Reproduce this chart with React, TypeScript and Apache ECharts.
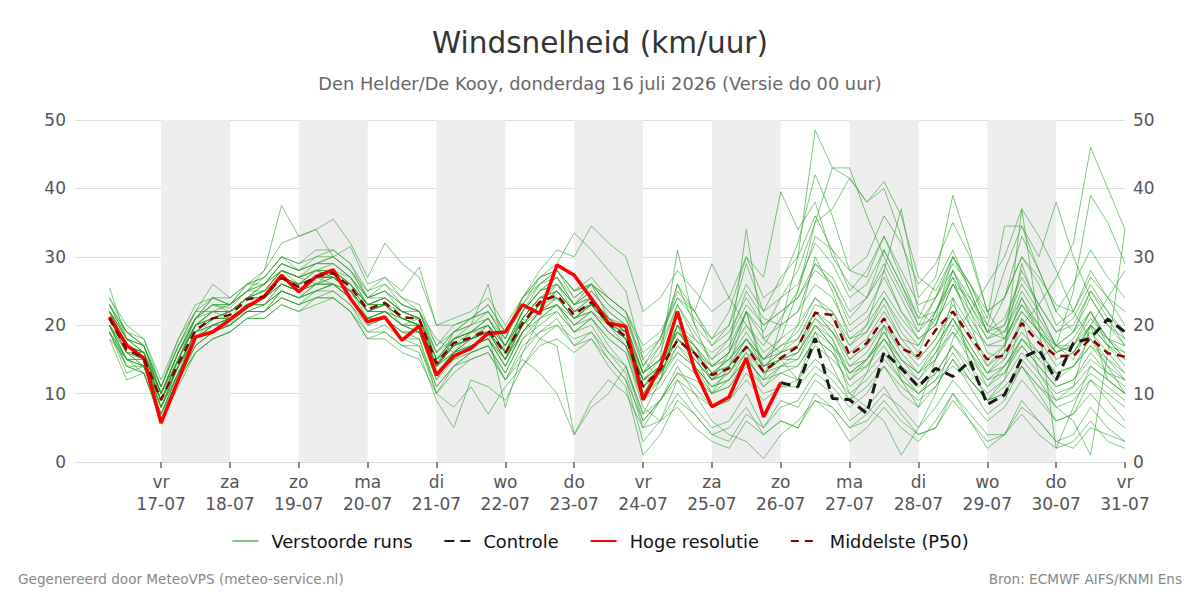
import React, { useEffect, useRef } from "react";
import * as echarts from "echarts";

// Time steps: hours since 16-07 00:00, every 6 h from 16-07 06:00
const STEP_HOURS = 6;
const FIRST_HOUR = 6;
const DAY_NAMES = ["do", "vr", "za", "zo", "ma", "di", "wo"];
const TICK_HOURS = [24, 48, 72, 96, 120, 144, 168, 192, 216, 240, 264, 288, 312, 336, 360];
const SHADED_DAYS = [[24, 48], [72, 96], [120, 144], [168, 192], [216, 240], [264, 288], [312, 336]];

const hogeResolutie = [21.2, 17.1, 15.2, 5.7, 12.0, 18.3, 19.0, 20.8, 22.7, 24.2, 27.3, 24.9, 27.1, 28.1, 23.9, 20.5, 21.2, 17.8, 19.9, 12.7, 15.5, 16.6, 18.8, 19.0, 23.0, 21.7, 28.8, 27.3, 23.9, 20.3, 19.8, 9.1, 13.9, 22.0, 13.5, 8.1, 9.5, 15.2, 6.6, 11.6];

const controle = [null, null, null, null, null, null, null, null, null, null, null, null, null, null, null, null, null, null, null, null, null, null, null, null, null, null, null, null, null, null, null, null, null, null, null, null, null, null, null,
  11.6, 11.0, 18.1, 9.3, 9.1, 7.1, 16.1, 13.7, 11.0, 13.7, 12.5, 14.8, 8.4, 9.8, 15.2, 16.4, 12.0, 17.4, 18.1, 20.9, 19.0];

const middelste = [21.0, 16.4, 15.2, 9.1, 14.4, 19.3, 21.0, 21.5, 23.8, 24.2, 26.9, 25.6, 27.1, 27.6, 25.6, 22.3, 23.3, 21.2, 20.9, 14.4, 17.4, 18.2, 19.3, 15.9, 20.3, 23.4, 24.4, 21.5, 23.4, 20.3, 18.3, 11.0, 13.5, 17.8, 15.9, 12.7, 13.7, 16.8, 13.2, 15.2, 16.9, 21.8, 21.5, 15.6, 17.4, 21.0, 16.6, 15.5, 19.3, 22.0, 18.3, 15.0, 15.6, 20.3, 17.4, 15.5, 15.5, 18.1, 15.9, 15.4];

const run01 = [25.5, 18, 16, 10, 16, 21, 23, 22.5, 25, 28, 37.5, 33, 34, 30, 31.5, 26, 27, 24, 22, 18, 16, 19, 20, 17, 22, 25, 27, 23, 26, 21, 19, 10, 14, 20, 17, 12, 16, 22, 14, 16, 20, 30, 25, 18, 19, 24, 19, 16, 22, 27, 20, 14, 17, 24, 19, 16, 18, 22, 17, 15];
const run02 = [20, 15, 14, 7, 13, 18, 20, 21, 23, 23, 25, 24, 26, 28, 24, 21, 22, 20, 19, 12, 16, 17, 18, 14, 19, 22, 23, 20, 22, 19, 17, 9, 12, 16, 14, 11, 12, 15, 12, 20, 30, 48.5, 43, 43, 36, 30, 25, 20, 24, 28, 24, 19, 18, 23, 20, 17, 16, 20, 18, 17];
const run03 = [22, 17, 15, 8, 14, 19, 21, 22, 24, 24, 27, 26, 28, 27, 26, 23, 24, 22, 21, 15, 17, 18, 19, 16, 20, 23, 26, 22, 24, 21, 18, 12, 14, 18, 16, 13, 14, 17, 13, 15, 17, 22, 20, 15, 17, 20, 17, 15, 18, 22, 18, 14, 16, 20, 23, 27, 32, 46, 40, 34];
const run04 = [19, 13, 14, 6, 12, 17, 19, 20, 22, 22, 24, 23, 25, 25, 23, 20, 21, 19, 18, 10, 14, 16, 17, 12, 16, 19, 21, 17, 19, 15, 12, 3, 6, 12, 8, 5, 6, 10, 5, 9, 8, 12, 10, 6, 8, 11, 7, 4, 5, 9, 6, 3, 4, 8, 6, 3, 2, 5, 4, 3];
const run05 = [21, 16, 15, 9, 15, 20, 21, 22, 24, 25, 28, 27, 29, 29, 27, 23, 23, 21, 20, 13, 16, 18, 19, 15, 21, 24, 24, 21, 23, 20, 19, 13, 15, 19, 16, 13, 15, 18, 15, 18, 25, 35, 43, 41.5, 38, 40, 33, 22, 20, 28, 22, 16, 15, 21, 18, 14, 16, 19, 16, 13];
const run06 = [23, 18, 17, 11, 17, 22, 22, 21, 24, 26, 28, 27, 26, 27, 25, 21, 22, 20, 20, 14, 18, 20, 21, 17, 21, 18, 17, 4, 8, 10, 14, 7, 12, 20, 16, 10, 12, 16, 11, 14, 15, 20, 18, 12, 15, 19, 15, 12, 16, 21, 16, 11, 14, 18, 15, 12, 14, 17, 14, 12];
const run07 = [22, 19, 17, 10, 16, 21, 24, 23, 25, 27, 30, 29, 30, 31, 29, 24, 26, 23, 22, 16, 19, 21, 22, 18, 24, 28, 31, 30, 34.5, 32, 30, 22, 24, 28, 25, 22, 24, 30, 27, 39.5, 34, 38, 30, 26, 24, 28, 22, 18, 20, 26, 21, 17, 18, 23, 19, 16, 17, 22, 18, 15];
const run08 = [18, 15, 13, 7, 12, 16, 18, 19, 21, 21, 23, 22, 23, 24, 22, 18, 19, 17, 16, 9, 5, 12, 11, 9, 14, 17, 18, 16, 18, 14, 11, 1, 4, 9, 7, 4, 3, 7, 5, 8, 9, 13, 11, 8, 10, 14, 10, 8, 11, 15, 11, 7, 9, 14, 10, 6, 7, 12, 9, 6];
const run09 = [20, 16, 15, 8, 14, 18, 20, 20, 23, 23, 26, 25, 27, 26, 25, 22, 22, 20, 21, 14, 16, 17, 18, 15, 19, 22, 24, 21, 22, 20, 18, 10, 13, 17, 15, 12, 13, 16, 13, 14, 16, 20, 17, 10, 8, 6, 1, 5, 10, 18, 22, 26, 30, 37, 33, 28, 22, 18, 14, 10];
const run10 = [21, 17, 16, 9, 15, 20, 22, 22, 24, 24, 27, 26, 27, 28, 26, 23, 24, 22, 21, 15, 17, 19, 20, 16, 21, 24, 25, 22, 24, 21, 19, 12, 15, 31, 20, 14, 16, 20, 16, 18, 20, 24, 22, 18, 20, 24, 20, 17, 22, 26, 24, 20, 28, 34.5, 30, 38, 30, 24, 20, 18];
const run11 = [24, 20, 18, 11, 18, 22, 26, 24, 26, 28, 32, 33, 34, 35.5, 32, 27, 32, 29, 27, 20, 20, 21, 23, 19, 22, 26, 28, 24, 26, 24, 22, 14, 17, 23, 19, 15, 18, 25, 21, 20, 22, 29, 26, 21, 24, 31, 26, 20, 21, 30, 25, 19, 20, 28, 23, 19, 21, 26, 22, 18];
const run12 = [19, 15, 15, 8, 13, 19, 21, 22, 23, 24, 26, 25, 27, 27, 25, 22, 23, 20, 19, 14, 18, 19, 21, 18, 23, 27, 29, 33.5, 31, 28, 25, 15, 18, 26, 22, 17, 19, 24, 20, 22, 24, 29, 27, 22, 24, 29, 24, 19, 22, 28, 23, 18, 20, 26, 22, 17, 19, 25, 21, 17];
const run13 = [20, 14, 13, 6, 12, 17, 19, 20, 22, 22, 25, 24, 25, 26, 24, 21, 21, 18, 18, 11, 14, 16, 17, 13, 18, 20, 22, 19, 21, 17, 14, 6, 9, 14, 10, 6, 4, 3, 0.5, 4, 6, 9, 8, 5, 7, 10, 8, 5, 8, 12, 9, 6, 8, 12, 9, 6, 7, 10, 7, 5];
const run14 = [22, 18, 16, 10, 16, 20, 22, 23, 25, 25, 28, 27, 28, 29, 27, 24, 24, 22, 21, 15, 18, 19, 19, 8, 16, 21, 23, 19, 20, 16, 13, 5, 9, 13, 12, 10, 11, 14, 11, 13, 12, 17, 15, 12, 14, 18, 14, 11, 13, 17, 14, 11, 13, 18, 15, 17, 25, 39, 35, 29];
const run15 = [21, 16, 14, 9, 14, 19, 21, 21, 23, 24, 26, 25, 27, 28, 26, 22, 23, 21, 20, 14, 17, 18, 19, 15, 20, 23, 25, 22, 23, 20, 18, 11, 14, 19, 16, 14, 16, 22, 19, 24, 28, 35, 37, 41.5, 38, 41, 36, 27, 25, 30, 26, 20, 19, 24, 20, 16, 17, 21, 18, 15];
const run16 = [20, 17, 15, 9, 14, 19, 20, 21, 23, 24, 26, 25, 26, 27, 25, 22, 22, 21, 20, 13, 16, 17, 18, 15, 19, 22, 24, 21, 23, 20, 17, 12, 13, 18, 15, 12, 14, 18, 15, 17, 19, 24, 21, 17, 20, 28, 37, 24, 27, 39, 31, 22, 18, 22, 19, 15, 16, 20, 17, 14];
const run17 = [21, 17, 16, 10, 15, 20, 21, 21, 23, 24, 27, 25, 26, 26, 25, 22, 23, 21, 21, 14, 17, 18, 20, 16, 21, 24, 25, 22, 23, 21, 19, 11, 14, 20, 17, 14, 16, 34, 18, 16, 18, 22, 19, 15, 17, 21, 17, 14, 17, 21, 17, 13, 15, 19, 16, 13, 14, 18, 15, 12];
const run18 = [23, 19, 17, 11, 17, 21, 24, 23, 25, 26, 29, 28, 29, 30, 28, 25, 27, 25, 28.5, 20, 21, 22, 24, 20, 24, 27, 28, 25, 26, 24, 22, 16, 18, 24, 22, 29, 24, 20, 17, 21, 25, 33, 31, 28, 27, 33, 28, 23, 24, 29, 26, 22, 24, 30, 27, 23, 22, 27, 24, 20];
const run19 = [19, 14, 14, 7, 13, 18, 20, 20, 22, 22, 24, 23, 24, 25, 23, 19, 20, 18, 17, 10, 13, 15, 16, 12, 15, 13, 10, 4, 9, 12, 10, 5, 6, 8, 5, 3, 2, 6, 4, 6, 5, 10, 8, 5, 6, 9, 6, 4, 5, 10, 7, 4, 4, 9, 6, 3, 4, 8, 5, 3];
const run20 = [22, 17, 16, 9, 15, 20, 22, 22, 24, 25, 27, 26, 27, 28, 26, 23, 23, 21, 20, 14, 17, 18, 20, 16, 20, 23, 25, 22, 23, 20, 18, 12, 14, 18, 16, 12, 14, 17, 14, 15, 16, 21, 18, 13, 14, 17, 13, 10, 12, 16, 12, 9, 10, 15, 12, 8, 6, 1, 16, 34];
const run21 = [21, 17, 16, 10, 15, 20, 22, 22, 24, 25, 28, 26, 28, 28, 26, 23, 24, 22, 21, 15, 18, 19, 20, 17, 21, 24, 26, 23, 24, 21, 19, 13, 15, 19, 17, 14, 15, 18, 15, 17, 18, 23, 22, 17, 19, 23, 18, 17, 21, 24, 20, 17, 17, 22, 19, 17, 17, 20, 17, 16];
const run22 = [20, 15, 14, 7, 13, 17, 19, 20, 22, 22, 25, 24, 25, 26, 24, 20, 21, 19, 19, 12, 15, 16, 17, 13, 18, 21, 22, 19, 21, 18, 16, 8, 6, 10, 7, 4, 5, 8, 4, 6, 5, 9, 7, 3, 5, 8, 5, 3, 6, 10, 6, 2, 4, 7, 4, 2, 3, 6, 3, 2];
const run23 = [22, 18, 17, 10, 16, 21, 23, 23, 25, 26, 28, 27, 28, 27, 26, 23, 23, 22, 21, 14, 19, 20, 26, 16, 22, 25, 26, 23, 25, 22, 20, 13, 16, 23, 18, 15, 17, 22, 18, 20, 22, 26, 24, 19, 21, 25, 21, 18, 20, 26, 22, 18, 19, 25, 21, 17, 19, 24, 20, 17];
const run24 = [19, 14, 13, 6, 12, 16, 18, 19, 21, 21, 23, 22, 24, 24, 22, 18, 18, 16, 15, 10, 8, 11, 7, 11, 14, 18, 20, 17, 18, 15, 12, 6, 9, 12, 10, 8, 9, 13, 10, 11, 12, 15, 13, 10, 12, 15, 12, 10, 12, 14, 12, 9, 11, 14, 11, 9, 10, 13, 11, 9];
const run25 = [22, 18, 16, 9, 15, 21, 23, 23, 26, 27, 30, 28, 30, 30, 28, 24, 25, 23, 22, 16, 19, 20, 22, 18, 24, 26, 27, 24, 26, 23, 21, 14, 18, 25, 22, 18, 22, 30, 24, 26, 32, 42, 36, 28, 30, 36, 32, 26, 29, 35, 30, 22, 24, 30, 26, 20, 22, 28, 24, 22];
const run26 = [18, 12, 13, 6, 11, 16, 18, 19, 21, 22, 24, 23, 24, 24, 22, 19, 19, 17, 17, 11, 14, 15, 16, 12, 17, 19, 20, 18, 19, 16, 14, 7, 9, 13, 11, 8, 9, 12, 9, 11, 11, 14, 12, 9, 11, 14, 11, 9, 11, 15, 12, 9, 10, 14, 11, 8, 9, 12, 10, 8];
const run27 = [23, 18, 17, 10, 16, 21, 23, 22, 24, 26, 29, 28, 29, 29, 27, 24, 25, 22, 21, 16, 18, 19, 21, 17, 22, 25, 27, 23, 25, 22, 20, 13, 15, 20, 18, 16, 18, 23, 20, 22, 24, 28, 26, 20, 22, 27, 22, 19, 24, 30, 26, 21, 34.5, 34.5, 28, 22, 19, 22, 18, 16];
const run28 = [20, 16, 14, 8, 14, 18, 21, 21, 23, 23, 26, 25, 26, 26, 24, 21, 22, 20, 19, 13, 16, 18, 19, 15, 20, 22, 23, 20, 22, 19, 17, 10, 12, 17, 14, 11, 13, 17, 13, 15, 15, 19, 17, 13, 15, 18, 14, 12, 15, 19, 15, 12, 14, 17, 14, 11, 12, 16, 13, 11];
const run29 = [21, 17, 15, 9, 15, 20, 21, 22, 24, 24, 27, 26, 27, 27, 26, 22, 23, 21, 20, 14, 17, 18, 19, 16, 20, 23, 25, 22, 23, 20, 18, 12, 14, 18, 16, 13, 14, 18, 14, 16, 17, 21, 19, 14, 16, 20, 16, 13, 17, 21, 17, 13, 16, 37, 20, 2, 8, 14, 12, 10];
const run30 = [24, 19, 18, 12, 18, 23, 24, 23, 26, 27, 30, 29, 31, 31, 29, 25, 26, 24, 23, 17, 19, 21, 22, 19, 23, 26, 28, 25, 27, 24, 22, 17, 19, 24, 21, 18, 20, 26, 22, 24, 26, 32, 29, 24, 26, 31, 26, 21, 22, 27, 23, 19, 21, 27, 23, 19, 20, 25, 22, 19];
const run31 = [19, 15, 14, 8, 13, 18, 19, 20, 22, 23, 25, 24, 25, 26, 24, 21, 21, 19, 19, 13, 15, 17, 18, 14, 19, 21, 23, 20, 21, 18, 16, 9, 11, 15, 13, 10, 11, 15, 12, 13, 14, 18, 16, 11, 13, 16, 12, 10, 13, 17, 13, 10, 12, 16, 13, 10, 11, 14, 12, 10];
const run32 = [22, 17, 16, 10, 16, 21, 22, 22, 24, 25, 28, 27, 28, 28, 27, 23, 24, 22, 22, 15, 18, 19, 21, 17, 22, 25, 26, 23, 24, 21, 20, 13, 17, 26, 20, 17, 20, 29, 22, 27, 30, 36, 31, 25, 28, 33, 27, 21, 26, 31, 25, 19, 24, 33, 28, 22, 26, 31, 27, 24];
const run33 = [21, 16, 16, 9, 14, 19, 21, 21, 23, 24, 27, 25, 27, 27, 25, 22, 22, 21, 20, 14, 16, 18, 19, 16, 21, 24, 24, 21, 23, 20, 19, 12, 14, 19, 17, 13, 15, 19, 15, 16, 17, 22, 19, 16, 18, 22, 18, 15, 18, 23, 19, 15, 17, 29, 22, 17, 15, 20, 24, 28];
const run34 = [20, 15, 15, 8, 14, 18, 20, 21, 22, 23, 25, 24, 26, 26, 24, 21, 22, 20, 20, 13, 15, 17, 18, 14, 19, 22, 23, 21, 22, 19, 17, 11, 13, 16, 14, 11, 12, 15, 12, 14, 14, 18, 16, 13, 15, 18, 15, 13, 16, 19, 16, 13, 14, 18, 16, 13, 14, 17, 15, 13];
const run35 = [23, 19, 17, 11, 17, 22, 24, 24, 26, 26, 29, 28, 29, 30, 28, 24, 25, 23, 22, 17, 20, 21, 23, 19, 24, 27, 28, 25, 26, 23, 21, 15, 12, 20, 14, 10, 14, 22, 13, 15, 12, 19, 14, 9, 13, 20, 12, 8, 15, 24, 14, 9, 12, 21, 13, 9, 11, 20, 12, 10];
const run36 = [21, 17, 15, 9, 14, 19, 20, 21, 23, 24, 26, 25, 27, 27, 25, 22, 23, 21, 20, 14, 17, 18, 19, 15, 20, 23, 24, 21, 23, 20, 18, 11, 13, 18, 15, 12, 13, 17, 14, 15, 16, 20, 17, 14, 15, 19, 15, 13, 15, 20, 16, 12, 13, 17, 14, 11, 12, 15, 13, 12];

const verstoordeRuns = [run01, run02, run03, run04, run05, run06, run07, run08, run09, run10, run11, run12, run13, run14, run15, run16, run17, run18, run19, run20, run21, run22, run23, run24, run25, run26, run27, run28, run29, run30, run31, run32, run33, run34, run35, run36];

const FONT = "DejaVu Sans";

function toPairs(values: (number | null)[]) {
  return values.map((v, i) => [FIRST_HOUR + i * STEP_HOURS, v]);
}

export default function App() {
  const ref = useRef<HTMLDivElement>(null);

  useEffect(() => {
    document.body.style.margin = "0";
    if (!ref.current) return;
    const chart = echarts.init(ref.current, undefined, { renderer: "svg" });

    const runSeries = verstoordeRuns.map((run) => ({
      name: "Verstoorde runs",
      type: "line",
      data: toPairs(run),
      showSymbol: false,
      symbol: "none",
      silent: true,
      color: "#2ca02c",
      lineStyle: { color: "#2ca02c", width: 1, opacity: 0.6 },
      z: 2,
    }));

    const option: any = {
      animation: false,
      backgroundColor: "#ffffff",
      textStyle: { fontFamily: FONT },
      title: [
        {
          text: "Windsnelheid (km/uur)",
          left: "center",
          top: 23,
          textStyle: { fontFamily: FONT, fontSize: 29.5, fontWeight: "normal", color: "#333333" },
        },
        {
          text: "Den Helder/De Kooy, donderdag 16 juli 2026 (Versie do 00 uur)",
          left: "center",
          top: 69,
          textStyle: { fontFamily: FONT, fontSize: 17.8, fontWeight: "normal", color: "#666666" },
        },
        {
          text: "Gegenereerd door MeteoVPS (meteo-service.nl)",
          left: 18,
          top: 572,
          padding: 0,
          textStyle: { fontFamily: FONT, fontSize: 13.6, fontWeight: "normal", color: "#888888" },
        },
        {
          text: "Bron: ECMWF AIFS/KNMI Ens",
          right: 18,
          top: 572,
          padding: 0,
          textStyle: { fontFamily: FONT, fontSize: 13.6, fontWeight: "normal", color: "#888888" },
        },
      ],
      legend: {
        bottom: 45,
        left: "center",
        itemWidth: 26,
        itemHeight: 12,
        itemGap: 31,
        itemStyle: { opacity: 0 },
        textStyle: { fontFamily: FONT, fontSize: 17.8, color: "#111111", padding: [0, 0, 0, 8] },
        data: [
          { name: "Verstoorde runs" },
          { name: "Controle" },
          { name: "Hoge resolutie" },
          { name: "Middelste (P50)" },
        ],
      },
      grid: { left: 75, right: 75, top: 120, bottom: 138, containLabel: false },
      xAxis: {
        type: "value",
        min: -6,
        max: 360,
        axisLine: { show: false },
        splitLine: { show: false },
        axisTick: {
          show: true,
          customValues: TICK_HOURS,
          length: 6,
          lineStyle: { color: "#666666", width: 1.5 },
        },
        axisLabel: {
          customValues: TICK_HOURS,
          margin: 9,
          formatter: (v: number) => {
            const d = Math.round(v / 24);
            const day = 16 + d;
            return "{a|" + DAY_NAMES[d % 7] + "}\n{a|" + String(day).padStart(2, "0") + "-07}";
          },
          rich: {
            a: { fontFamily: FONT, fontSize: 17, color: "#555555", lineHeight: 22 },
          },
        },
      },
      yAxis: [
        {
          type: "value",
          min: 0,
          max: 50,
          interval: 10,
          position: "left",
          axisLine: { show: false },
          axisTick: { show: false },
          splitLine: { show: true, lineStyle: { color: "#dddddd", width: 1 } },
          axisLabel: { fontFamily: FONT, fontSize: 17, color: "#555555", margin: 9 },
        },
        {
          type: "value",
          min: 0,
          max: 50,
          interval: 10,
          position: "right",
          axisLine: { show: false },
          axisTick: { show: false },
          splitLine: { show: false },
          axisLabel: { fontFamily: FONT, fontSize: 17, color: "#555555", margin: 8 },
        },
      ],
      series: [
        {
          name: "dagbanden",
          type: "line",
          data: [],
          silent: true,
          z: 0,
          markArea: {
            silent: true,
            itemStyle: { color: "#eeeeee" },
            data: SHADED_DAYS.map(([a, b]) => [{ xAxis: a }, { xAxis: b }]),
          },
        },
        ...runSeries,
        {
          name: "Controle",
          type: "line",
          data: toPairs(controle),
          showSymbol: false,
          symbol: "none",
          color: "#1a1a1a",
          lineStyle: { color: "#1a1a1a", width: 3, type: [10, 6] },
          z: 3,
        },
        {
          name: "Hoge resolutie",
          type: "line",
          data: toPairs(hogeResolutie),
          showSymbol: false,
          symbol: "none",
          color: "#ff0000",
          lineStyle: { color: "#ff0000", width: 3.5 },
          z: 4,
        },
        {
          name: "Middelste (P50)",
          type: "line",
          data: toPairs(middelste),
          showSymbol: false,
          symbol: "none",
          color: "#8b0000",
          lineStyle: { color: "#8b0000", width: 2.5, type: [8, 6] },
          z: 5,
        },
      ],
    };

    chart.setOption(option);
    return () => chart.dispose();
  }, []);

  return <div ref={ref} style={{ width: 1200, height: 600 }} />;
}
